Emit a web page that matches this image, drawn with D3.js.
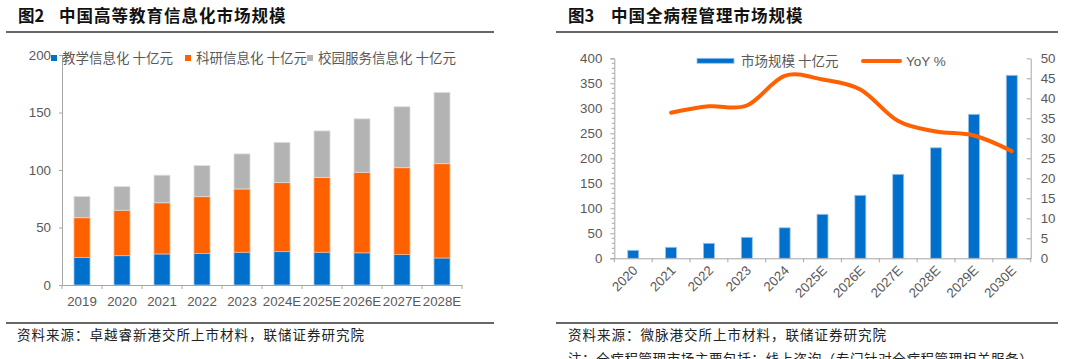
<!DOCTYPE html>
<html>
<head>
<meta charset="utf-8">
<script src="https://cdn.jsdelivr.net/npm/d3@7"></script>
<style>
  html, body { margin: 0; padding: 0; background: #fff; }
  svg { display: block; }
  .cjk { font-family: "Noto Sans CJK SC", "Noto Sans", sans-serif; }
  .num { font-family: "Liberation Sans", Arial, sans-serif; }
</style>
</head>
<body>
<svg id="chart" width="1066" height="359"></svg>
<script>
// ---------- Data: Figure 2 ----------
const eduYears = ["2019", "2020", "2021", "2022", "2023", "2024E", "2025E", "2026E", "2027E", "2028E"];
const teaching = [24, 25.5, 27, 27.5, 28.5, 29, 28.5, 28, 26.5, 23.5];
const research = [34.5, 39.5, 44.5, 49.3, 55, 60, 65, 70, 75.5, 82];
const campus = [18.5, 20.5, 24, 27, 30.5, 35, 40.5, 46.5, 53, 62];
const eduSeriesNames = ["教学信息化 十亿元", "科研信息化 十亿元", "校园服务信息化 十亿元"];
const eduTicks = [0, 50, 100, 150, 200];

// ---------- Data: Figure 3 ----------
const pmYears = ["2020", "2021", "2022", "2023", "2024", "2025E", "2026E", "2027E", "2028E", "2029E", "2030E"];
const marketSize = [16, 22, 30, 42, 61, 88, 126, 168, 221, 288, 366];
const yoy = [null, 36.4, 38.0, 38.2, 45.6, 44.7, 42.2, 34.3, 31.7, 30.7, 26.8];
const pmLeftTicks = [0, 50, 100, 150, 200, 250, 300, 350, 400];
const pmRightTicks = [0, 5, 10, 15, 20, 25, 30, 35, 40, 45, 50];
const pmSeriesNames = ["市场规模 十亿元", "YoY %"];

const svg = d3.select("#chart");
const AXIS = "#a6a6a6";
const LABEL = "#595959";
const BLUE = "#0070cc";
const ORANGE = "#ff6000";
const GREY = "#b3b3b3";

// ---------- Headers / footers ----------
function header(x0, x1, tag, title, tagX, titleX) {
  svg.append("text").attr("class", "cjk").attr("x", tagX).attr("y", 21.5)
    .attr("font-size", 16.5).attr("font-weight", "bold").attr("fill", "#111").text(tag);
  svg.append("text").attr("class", "cjk").attr("x", titleX).attr("y", 21.5)
    .attr("font-size", 16.5).attr("font-weight", "bold").attr("letter-spacing", 1).attr("fill", "#111").text(title);
  svg.append("line").attr("x1", x0).attr("x2", x1).attr("y1", 32).attr("y2", 32)
    .attr("stroke", "#333").attr("stroke-width", 1.3);
  svg.append("line").attr("x1", x0).attr("x2", x1).attr("y1", 323).attr("y2", 323)
    .attr("stroke", "#333").attr("stroke-width", 1.3);
}
header(6, 494, "图2", "中国高等教育信息化市场规模", 18, 59);
header(556, 1058, "图3", "中国全病程管理市场规模", 568, 611);

svg.append("text").attr("class", "cjk").attr("x", 17).attr("y", 340)
  .attr("font-size", 13.5).attr("letter-spacing", 1).attr("fill", "#222")
  .text("资料来源：卓越睿新港交所上市材料，联储证券研究院");
svg.append("text").attr("class", "cjk").attr("x", 568).attr("y", 340)
  .attr("font-size", 13.5).attr("letter-spacing", 1).attr("fill", "#222")
  .text("资料来源：微脉港交所上市材料，联储证券研究院");
svg.append("text").attr("class", "cjk").attr("x", 568).attr("y", 364)
  .attr("font-size", 13.5).attr("letter-spacing", 0.6).attr("fill", "#222")
  .text("注：全病程管理市场主要包括：线上咨询（专门针对全病程管理相关服务）");

// ---------- Figure 2: stacked bars ----------
{
  const x = d3.scaleBand().domain(eduYears).range([62, 462]).padding(0);
  const y = d3.scaleLinear().domain([0, 200]).range([285, 55]);
  const rows = eduYears.map((yr, i) => ({ year: yr, a: teaching[i], b: research[i], c: campus[i] }));
  const stack = d3.stack().keys(["a", "b", "c"])(rows);
  const colors = [BLUE, ORANGE, GREY];
  const strokes = ["#9cc3ea", "#ffb183", "#dedede"];
  const g = svg.append("g");
  const bw = x.bandwidth() * 0.4;

  stack.forEach((layer, li) => {
    g.selectAll(null).data(layer).enter().append("rect")
      .attr("x", d => x(d.data.year) + (x.bandwidth() - bw) / 2)
      .attr("y", d => y(d[1]))
      .attr("width", bw)
      .attr("height", d => y(d[0]) - y(d[1]))
      .attr("fill", colors[li])
      .attr("stroke", strokes[li]).attr("stroke-width", 0.8);
  });

  // y axis
  const ya = svg.append("g").attr("transform", "translate(62,0)")
    .call(d3.axisLeft(y).tickValues(eduTicks).tickSize(3).tickPadding(8));
  ya.select(".domain").attr("stroke", AXIS);
  ya.selectAll(".tick line").attr("stroke", AXIS);
  ya.selectAll("text").attr("class", "num").attr("font-size", 13.3).attr("fill", LABEL);

  // x axis
  const xa = svg.append("g").attr("transform", "translate(0,285)")
    .call(d3.axisBottom(x).tickSize(0).tickPadding(12));
  xa.select(".domain").attr("stroke", AXIS);
  xa.selectAll("text").attr("class", "num").attr("font-size", 13.3).attr("fill", LABEL);
  const bounds = eduYears.map(d => x(d)).concat([x.range()[1]]);
  xa.selectAll(null).data(bounds).enter().append("line")
    .attr("x1", d => d).attr("x2", d => d).attr("y1", 0).attr("y2", 4).attr("stroke", AXIS);

  // legend
  const legX = [51, 185, 307];
  eduSeriesNames.forEach((name, i) => {
    svg.append("rect").attr("x", legX[i]).attr("y", 55).attr("width", 6).attr("height", 6).attr("fill", colors[i]);
    svg.append("text").attr("class", "cjk").attr("x", legX[i] + 11).attr("y", 62.5)
      .attr("font-size", 13.5).attr("fill", LABEL).text(name);
  });
}

// ---------- Figure 3: bars + line ----------
{
  const x = d3.scaleBand().domain(pmYears).range([614.3, 1030.7]).padding(0);
  const yL = d3.scaleLinear().domain([0, 400]).range([258.3, 58.3]);
  const yR = d3.scaleLinear().domain([0, 50]).range([258.3, 58.3]);
  const g = svg.append("g");
  const bw = x.bandwidth() * 0.29;

  g.selectAll(null).data(pmYears).enter().append("rect")
    .attr("x", d => x(d) + (x.bandwidth() - bw) / 2)
    .attr("y", (d, i) => yL(marketSize[i]))
    .attr("width", bw)
    .attr("height", (d, i) => yL(0) - yL(marketSize[i]))
    .attr("fill", BLUE).attr("stroke", "#9cc3ea").attr("stroke-width", 0.8);

  // left axis with minor ticks
  const minor = d3.range(0, 401, 10).filter(v => v % 50 !== 0);
  const la = svg.append("g").attr("transform", "translate(614.3,0)");
  la.call(d3.axisLeft(yL).tickValues(pmLeftTicks).tickSize(4).tickPadding(8));
  la.select(".domain").attr("stroke", AXIS);
  la.selectAll(".tick line").attr("stroke", AXIS);
  la.selectAll("text").attr("class", "num").attr("font-size", 13.3).attr("fill", LABEL);
  la.selectAll(null).data(minor).enter().append("line")
    .attr("x1", -2.5).attr("x2", 0).attr("y1", d => yL(d)).attr("y2", d => yL(d)).attr("stroke", AXIS);

  // right axis
  const ra = svg.append("g").attr("transform", "translate(1030.7,0)");
  ra.call(d3.axisRight(yR).tickValues(pmRightTicks).tickSizeInner(-4).tickSizeOuter(0).tickPadding(10));
  ra.select(".domain").attr("stroke", AXIS);
  ra.selectAll(".tick line").attr("stroke", AXIS);
  ra.selectAll("text").attr("class", "num").attr("font-size", 13.3).attr("fill", LABEL);

  // x axis
  const xa = svg.append("g").attr("transform", "translate(0,258.3)");
  xa.call(d3.axisBottom(x).tickSize(0).tickFormat(""));
  xa.select(".domain").attr("stroke", AXIS);
  const bounds = pmYears.map(d => x(d)).concat([x.range()[1]]);
  xa.selectAll(null).data(bounds).enter().append("line")
    .attr("x1", d => d).attr("x2", d => d).attr("y1", 0).attr("y2", 4).attr("stroke", AXIS);
  svg.append("g").selectAll(null).data(pmYears).enter().append("text")
    .attr("class", "num")
    .attr("transform", d => `translate(${x(d) + x.bandwidth() / 2 + 2},268) rotate(-45)`)
    .attr("text-anchor", "end").attr("dy", "0.35em")
    .attr("font-size", 13.3).attr("fill", LABEL).text(d => d);

  // YoY line
  const pts = pmYears.map((d, i) => ({ year: d, v: yoy[i] })).filter(p => p.v != null);
  const line = d3.line()
    .x(p => x(p.year) + x.bandwidth() / 2)
    .y(p => yR(p.v))
    .curve(d3.curveCatmullRom.alpha(0));
  g.append("path").datum(pts).attr("d", line)
    .attr("fill", "none").attr("stroke", ORANGE).attr("stroke-width", 4).attr("stroke-linecap", "round");

  // legend
  svg.append("rect").attr("x", 697).attr("y", 58.3).attr("width", 37).attr("height", 5)
    .attr("fill", BLUE).attr("stroke", "#9cc3ea").attr("stroke-width", 0.8);
  svg.append("text").attr("class", "cjk").attr("x", 741).attr("y", 66)
    .attr("font-size", 13.5).attr("fill", LABEL).text(pmSeriesNames[0]);
  svg.append("line").attr("x1", 863).attr("x2", 900).attr("y1", 61).attr("y2", 61)
    .attr("stroke", ORANGE).attr("stroke-width", 4).attr("stroke-linecap", "round");
  svg.append("text").attr("class", "num").attr("x", 906).attr("y", 66)
    .attr("font-size", 13.5).attr("fill", LABEL).text(pmSeriesNames[1]);
}
</script>
</body>
</html>
